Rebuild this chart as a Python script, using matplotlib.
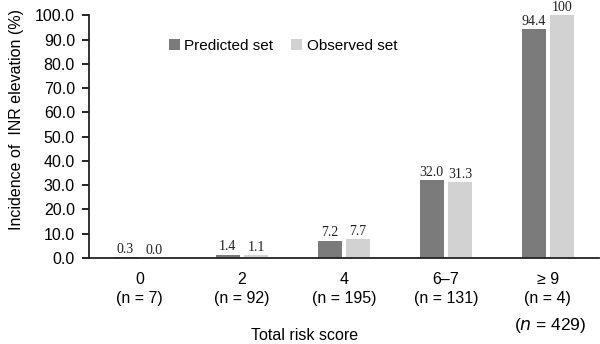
import matplotlib.pyplot as plt
import numpy as np

# данные
categories = ['0', '2', '4', '6\u20137', '\u2265 9']
counts = [7, 92, 195, 131, 4]
predicted = [0.3, 1.4, 7.2, 32.0, 94.4]
observed = [0.0, 1.1, 7.7, 31.3, 100]
pred_labels = ['0.3', '1.4', '7.2', '32.0', '94.4']
obs_labels = ['0.0', '1.1', '7.7', '31.3', '100']

plt.rcParams['font.family'] = ['Liberation Sans', 'DejaVu Sans']

fig = plt.figure(figsize=(6, 3.44), dpi=100)
ax = fig.add_axes([0.148, 0.25, 0.85, 0.705])

x = np.arange(len(categories))
w = 0.235
off = 0.14
ax.bar(x - off, predicted, w, color='#7b7b7b', label='Predicted set')
ax.bar(x + off, observed, w, color='#d2d2d2', label='Observed set')

for xi, v, s in zip(x, predicted, pred_labels):
    ax.text(xi - off, v + 0.6, s, ha='center', va='bottom', fontsize=10,
            family='Liberation Serif', color='#222222')
for xi, v, s in zip(x, observed, obs_labels):
    ax.text(xi + off, v + 0.6, s, ha='center', va='bottom', fontsize=10,
            family='Liberation Serif', color='#222222')

ax.set_xlim(-0.5, 4.5)
ax.set_ylim(0, 100)
ax.set_yticks(np.arange(0, 101, 10))
ax.set_yticklabels([f'{t:.1f}' for t in np.arange(0, 101, 10)], fontsize=11.5)
ax.set_xticks(x)
ax.set_xticklabels([f'{c}\n(n = {n})' for c, n in zip(categories, counts)],
                   fontsize=11.5, linespacing=1.35)
ax.tick_params(axis='x', length=0, pad=10)
ax.tick_params(axis='y', length=5, width=1.2, direction='out', pad=5)

for sp in ['top', 'right']:
    ax.spines[sp].set_visible(False)
for sp in ['left', 'bottom']:
    ax.spines[sp].set_linewidth(1.3)
    ax.spines[sp].set_color('#222222')

ax.set_ylabel('Incidence of  INR elevation (%)', fontsize=11.5, labelpad=10)
ax.yaxis.set_label_coords(-0.128, 0.57)
fig.text(0.508, 0.026, 'Total risk score', ha='center', va='center', fontsize=11.5)
fig.text(0.917, 0.055, '($\\it{n}$ = 429)', ha='center', va='center', fontsize=12.5)

ax.legend(loc='upper left', bbox_to_anchor=(0.13, 0.96), ncol=2, frameon=False,
          fontsize=11, handlelength=0.7, handleheight=0.7, handletextpad=0.3,
          columnspacing=1.2)

plt.savefig('out.png', dpi=100)
